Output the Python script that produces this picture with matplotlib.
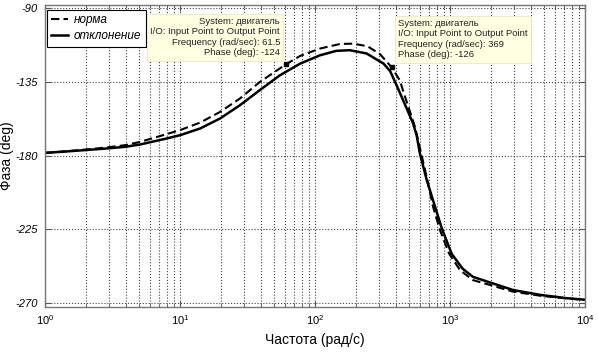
import matplotlib
matplotlib.use('Agg')
import matplotlib.pyplot as plt
from matplotlib.ticker import FixedLocator, LogLocator, NullFormatter

plt.rcParams['font.family'] = ['Liberation Sans', 'DejaVu Sans']
plt.rcParams['mathtext.fontset'] = 'custom'
plt.rcParams['mathtext.rm'] = 'Liberation Sans'
plt.rcParams['mathtext.it'] = 'Liberation Sans:italic'
plt.rcParams['mathtext.default'] = 'it'

# solid curve: отклонение
dev_freq = [1, 1.4, 1.98, 2.78, 3.91, 5.06, 6.0, 7.7, 10, 14.1, 19.8, 27.8, 39,
            55, 77.6, 109, 144, 181, 241, 322, 361, 402, 478, 531, 566, 596,
            673, 774, 870, 1030, 1240, 1480, 1990, 2920, 4650, 7300, 10000]
dev_phase = [-178.3, -177.5, -176.6, -175.7, -174.6, -173.2, -171.8, -169.8,
             -167.5, -163.4, -157.3, -149.2, -140.0, -130.9, -123.8, -118.7,
             -116.0, -115.6, -117.6, -123.8, -128.5, -137.0, -151.2, -160.0,
             -167.5, -178.0, -195.0, -211.0, -224.5, -240.0, -249.0, -254.0,
             -257.5, -262.0, -265.0, -267.0, -268.0]

# dashed curve: норма
norm_freq = [1, 1.4, 1.98, 2.78, 3.91, 5.06, 6.0, 7.7, 10, 14.1, 19.8, 27.8, 39,
             61.5, 77.6, 109, 153, 192, 245, 303, 369, 425, 452, 506, 550, 620,
             689, 748, 843, 983, 1190, 1480, 1990, 2920, 4650, 7300, 10000]
norm_phase = [-178.3, -177.4, -176.3, -175.1, -173.6, -171.6, -169.8, -167.2,
              -164.4, -159.8, -153.3, -145.1, -135.0, -124.0, -119.1, -114.6,
              -111.8, -111.6, -113.2, -118.0, -126.0, -134.0, -141.1, -153.3,
              -162.4, -180.7, -197.0, -211.0, -225.5, -239.7, -250.0, -256.0,
              -259.0, -263.0, -265.5, -267.2, -268.0]

tip_freq = [61.5, 369]
tip_phase = [-124, -126]
tip_texts = [
    'System: двигатель\nI/O: Input Point to Output Point\n'
    'Frequency (rad/sec): 61.5\nPhase (deg): -124',
    'System: двигатель\nI/O: Input Point to Output Point\n'
    'Frequency (rad/sec): 369\nPhase (deg): -126',
]

y_ticks = [-270, -225, -180, -135, -90]
x_ticks = [1, 10, 100, 1000, 10000]
x_labels = ['$10^{0}$', '$10^{1}$', '$10^{2}$', '$10^{3}$', '$10^{4}$']

fig = plt.figure(figsize=(5.98, 3.58), dpi=100)
ax = fig.add_axes([45 / 598, 1 - 306.5 / 358, 540 / 598, 301.5 / 358])

ax.plot(norm_freq, norm_phase, color='black', lw=1.5, ls=(0, (4, 2)), label='норма')
ax.plot(dev_freq, dev_phase, color='black', lw=1.8, label='отклонение')
ax.plot(tip_freq, tip_phase, 's', color='black', ms=3.5)

ax.set_xscale('log')
ax.set_xlim(1, 10000)
ax.set_ylim(-272.1, -88)
ax.xaxis.set_major_locator(FixedLocator(x_ticks))
ax.set_xticklabels(x_labels)
ax.xaxis.set_minor_locator(LogLocator(base=10, subs=range(2, 10)))
ax.xaxis.set_minor_formatter(NullFormatter())
ax.set_yticks(y_ticks)
ax.set_yticklabels([str(v) for v in y_ticks], style='italic')

ax.grid(True, which='major', ls=':', color='#444444', lw=0.8)
ax.grid(True, which='minor', axis='x', ls=':', color='#444444', lw=0.8)
ax.tick_params(which='both', direction='in', top=True, right=True,
               labelsize=8, color='#555555', pad=5)
ax.tick_params(which='major', length=4)
ax.tick_params(which='minor', length=2.5)
for s in ax.spines.values():
    s.set_color('#777777')
    s.set_linewidth(1)

ax.set_xlabel('Частота (рад/с)', fontsize=10, labelpad=4)
ax.set_ylabel('Фаза (deg)', fontsize=10, labelpad=1)

leg = ax.legend(loc='upper left', bbox_to_anchor=(0.003, 0.985), fancybox=False,
                edgecolor='black', framealpha=1, fontsize=8.5, handlelength=1.4,
                handletextpad=0.5, borderpad=0.4, labelspacing=0.3,
                borderaxespad=0)
for t in leg.get_texts():
    t.set_style('italic')
leg.get_frame().set_linewidth(0.8)

box = dict(boxstyle='square,pad=0.35', fc='#FFFFE1', ec='#E8E8C8', lw=0.6)
fig.text(280 / 598, 1 - 17 / 358, tip_texts[0], ha='right', va='top',
         multialignment='right', fontsize=6.8, color='#222222', bbox=box,
         linespacing=1.2)
fig.text(398 / 598, 1 - 19 / 358, tip_texts[1], ha='left', va='top',
         multialignment='left', fontsize=6.8, color='#222222', bbox=box,
         linespacing=1.2)

fig.savefig('out.png', dpi=100)
